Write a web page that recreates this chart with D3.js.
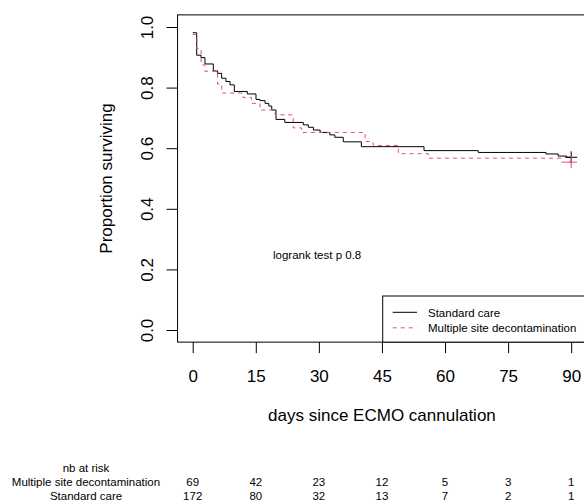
<!DOCTYPE html>
<html>
<head>
<meta charset="utf-8">
<script src="https://cdn.jsdelivr.net/npm/d3@7"></script>
<style>
  body { margin: 0; background: #fff; }
  svg { display: block; font-family: "Liberation Sans", Arial, sans-serif; }
</style>
</head>
<body>
<svg width="584" height="504"></svg>
<script>
// Standard care: step times (days) and survival after each step
const stdTimes = [0, 0.95, 1.97, 2.92, 4.9, 5.93, 6.88, 7.9, 8.87, 9.9, 12.98, 15.05, 16.0, 17.2, 18.1, 18.8,
	19.8, 21.9, 26.3, 27.5, 28.7, 30.3, 32.6, 33.8, 35.8, 40.1, 55.0, 67.9, 84.0, 86.9, 88.9];
const stdSurv = [0.981, 0.907, 0.899, 0.878, 0.855, 0.847, 0.831, 0.82, 0.809, 0.787, 0.779, 0.761, 0.757, 0.748, 0.739, 0.726,
	0.695, 0.685, 0.677, 0.669, 0.66, 0.652, 0.644, 0.636, 0.621, 0.605, 0.592, 0.586, 0.581, 0.574, 0.57];

// Multiple site decontamination
const msdTimes = [0, 1.0, 2.0, 2.9, 5.9, 6.9, 12.0, 14.0, 16.0, 19.6, 23.9, 25.9, 41.0, 42.9, 48.9, 56.0, 87.7];
const msdSurv = [0.975, 0.928, 0.875, 0.854, 0.812, 0.782, 0.767, 0.748, 0.726, 0.71, 0.667, 0.652, 0.622, 0.609, 0.582, 0.567, 0.554];

const lastTime = 90;

const xTicks = [0, 15, 30, 45, 60, 75, 90];
const yTicks = [0, 0.2, 0.4, 0.6, 0.8, 1.0];

const riskTimes = [0, 15, 30, 45, 60, 75, 90];
const riskMsd = [69, 42, 23, 12, 5, 3, 1];
const riskStd = [172, 80, 32, 13, 7, 2, 1];

const stdColor = '#000000';
const msdColor = '#DF536B';

const svg = d3.select('svg');

const x = d3.scaleLinear().domain([0, 90]).range([192.7, 571.2]);
const y = d3.scaleLinear().domain([0, 1]).range([330, 27]);

// plot region with R's 4% padding
const boxLeft = x(-3.6);
const boxRight = x(93.6);
const boxTop = y(1.04);
const boxBottom = y(-0.04);

svg.append('rect')
	.attr('x', boxLeft)
	.attr('y', boxTop)
	.attr('width', boxRight - boxLeft)
	.attr('height', boxBottom - boxTop)
	.attr('fill', 'none')
	.attr('stroke', '#000');

// x axis
const xAxis = svg.append('g')
	.attr('transform', `translate(0, ${boxBottom})`)
	.call(d3.axisBottom(x).tickValues(xTicks).tickSize(11).tickSizeOuter(0));
xAxis.select('.domain').remove();
xAxis.selectAll('text')
	.attr('y', 39.5)
	.attr('dy', 0)
	.attr('font-size', 17)
	.attr('font-family', null)
	.attr('fill', '#000');

// y axis
const yAxis = svg.append('g')
	.attr('transform', `translate(${boxLeft}, 0)`)
	.call(d3.axisLeft(y).tickValues(yTicks).tickFormat(d3.format('.1f')).tickSize(11).tickSizeOuter(0));
yAxis.select('.domain').remove();
yAxis.selectAll('text')
	.attr('transform', 'rotate(-90)')
	.attr('x', 0)
	.attr('y', -(boxLeft - 153))
	.attr('dy', 0)
	.attr('text-anchor', 'middle')
	.attr('font-size', 17)
	.attr('font-family', null)
	.attr('fill', '#000');

// axis titles
svg.append('text')
	.attr('x', (x(0) + x(90)) / 2)
	.attr('y', 421)
	.attr('text-anchor', 'middle')
	.attr('font-size', 17)
	.text('days since ECMO cannulation');

svg.append('text')
	.attr('transform', `translate(112, ${(y(0) + y(1)) / 2}) rotate(-90)`)
	.attr('text-anchor', 'middle')
	.attr('font-size', 17)
	.text('Proportion surviving');

// survival curves
const line = d3.line()
	.x(d => x(d[0]))
	.y(d => y(d[1]))
	.curve(d3.curveStepAfter);

function curvePoints(times, surv) {
	const pts = times.map((t, i) => [t, surv[i]]);
	pts.push([lastTime, surv[surv.length - 1]]);
	return pts;
}

const groups = [
	{ name: 'Standard care', times: stdTimes, surv: stdSurv, color: stdColor, dash: null },
	{ name: 'Multiple site decontamination', times: msdTimes, surv: msdSurv, color: msdColor, dash: '4,4' }
];

groups.forEach(gr => {
	svg.append('path')
		.attr('d', line(curvePoints(gr.times, gr.surv)))
		.attr('fill', 'none')
		.attr('stroke', gr.color)
		.attr('stroke-width', 1)
		.attr('stroke-dasharray', gr.dash);

	// censor mark at the end
	const cx = x(lastTime);
	const cy = y(gr.surv[gr.surv.length - 1]);
	svg.append('path')
		.attr('d', `M${cx - 6},${cy}H${cx + 6}M${cx},${cy - 6}V${cy + 6}`)
		.attr('stroke', gr.color)
		.attr('stroke-width', 1);
});

svg.append('text')
	.attr('x', 273)
	.attr('y', 259)
	.attr('font-size', 11.5)
	.text('logrank test p 0.8');

// legend
const legend = svg.append('g');
legend.append('rect')
	.attr('x', 382.7)
	.attr('y', 296)
	.attr('width', boxRight - 382.7)
	.attr('height', boxBottom - 296)
	.attr('fill', '#fff')
	.attr('stroke', '#000');

groups.forEach((gr, i) => {
	const ly = 312.3 + i * 15.5;
	legend.append('line')
		.attr('x1', 392.7)
		.attr('x2', 417)
		.attr('y1', ly)
		.attr('y2', ly)
		.attr('stroke', gr.color)
		.attr('stroke-dasharray', gr.dash);
	legend.append('text')
		.attr('x', 428)
		.attr('y', ly + 4.2)
		.attr('font-size', 11.5)
		.text(gr.name);
});

// number at risk table
const labelX = 86;
svg.append('text')
	.attr('x', labelX)
	.attr('y', 472)
	.attr('text-anchor', 'middle')
	.attr('font-size', 11.5)
	.text('nb at risk');

const rows = [
	{ name: 'Multiple site decontamination', values: riskMsd, y: 486 },
	{ name: 'Standard care', values: riskStd, y: 500 }
];

rows.forEach(r => {
	svg.append('text')
		.attr('x', labelX)
		.attr('y', r.y)
		.attr('text-anchor', 'middle')
		.attr('font-size', 11.5)
		.text(r.name);
	svg.append('g')
		.selectAll('text')
		.data(r.values)
		.join('text')
		.attr('x', (d, i) => x(riskTimes[i]))
		.attr('y', r.y)
		.attr('text-anchor', 'middle')
		.attr('font-size', 11.5)
		.text(d => d);
});
</script>
</body>
</html>
